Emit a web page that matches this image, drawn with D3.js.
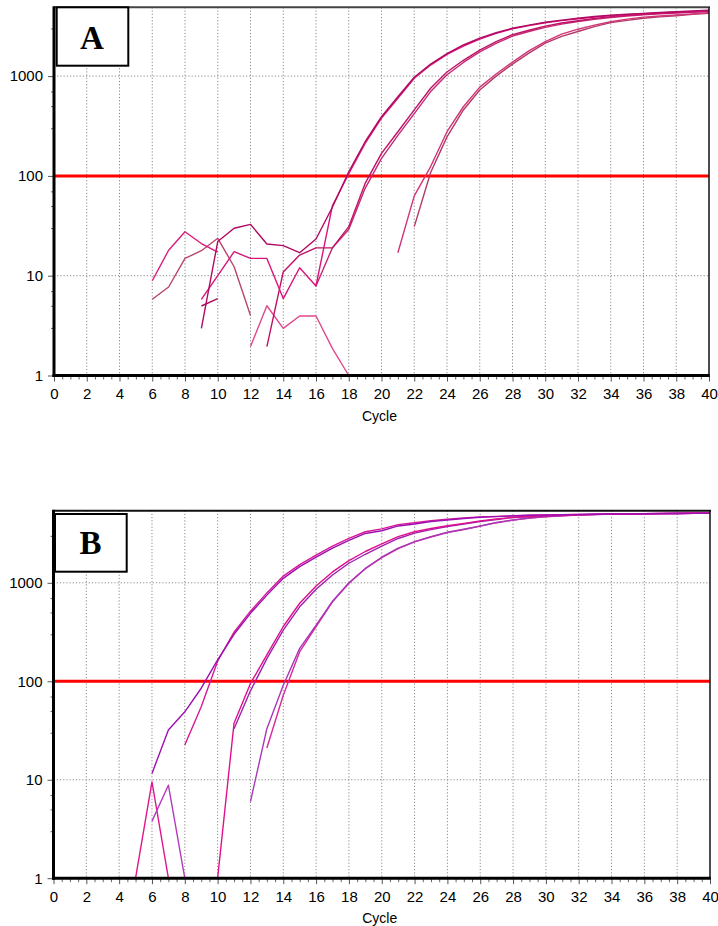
<!DOCTYPE html>
<html>
<head>
<meta charset="utf-8">
<script src="https://cdn.jsdelivr.net/npm/d3@7"></script>
<style>
  html, body { margin: 0; padding: 0; background: #fff; }
  svg { display: block; }
</style>
</head>
<body>
<svg id="chart" width="718" height="926"></svg>
<script>
// ---------------- DATA ----------------
const xTicks = d3.range(0, 41, 2);
const yTickLabels = [1, 10, 100, 1000];
const yMinorTicks = [3, 5, 7, 30, 50, 70, 300, 500, 700, 3000];
const threshold = 100;
const xLabel = "Cycle";

// Panel A series: first cycle + fluorescence values
const a1Start = 9;
const a1 = [2.97, 22, 29.9, 32.7, 20.8, 20, 17, 23.3, 48.5, 110, 220, 392, 620, 975, 1320, 1680, 2050, 2400, 2720, 3020, 3240, 3460, 3640, 3800, 3950, 4080, 4170, 4250, 4340, 4420, 4500, 4580];
const a2Start = 9;
const a2 = [5.8, 10, 17.4, 14.9, 14.9, 5.9, 12, 7.9, 50, 105, 212, 380, 600, 950, 1290, 1650, 2000, 2350, 2680, 2980, 3200, 3420, 3600, 3760, 3900, 4030, 4130, 4220, 4300, 4380, 4450, 4530];
const a3Start = 13;
const a3 = [1.95, 10.9, 16.1, 19, 19, 31, 84, 168, 277, 458, 755, 1100, 1440, 1820, 2210, 2600, 2880, 3170, 3400, 3590, 3780, 3940, 4060, 4170, 4250, 4320, 4400, 4480];
const a4Start = 16;
const a4 = [7.9, 19, 29, 75, 150, 255, 420, 700, 1030, 1370, 1750, 2130, 2520, 2800, 3080, 3320, 3520, 3700, 3870, 4000, 4110, 4200, 4280, 4360, 4440];
const a5Start = 21;
const a5 = [17, 63, 124, 277, 493, 775, 1050, 1380, 1790, 2210, 2630, 2950, 3240, 3500, 3720, 3900, 4000, 4100, 4200, 4320];
const a6Start = 22;
const a6 = [31, 108, 246, 458, 725, 1000, 1320, 1700, 2140, 2500, 2800, 3130, 3430, 3620, 3800, 3920, 4030, 4150, 4250];
const n1Start = 6;
const n1 = [8.9, 18, 27.6, 21, 17.2];
const n2Start = 6;
const n2 = [5.8, 7.7, 14.9, 17.8, 23.7, 12.3, 4.0];
const n3Start = 9;
const n3 = [4.97, 5.9];
const n4Start = 12;
const n4 = [1.95, 5.0, 2.97, 3.95, 3.95, 1.87, 1.0];

// Panel B series
const b1Start = 6;
const b1 = [11.6, 32, 49, 85, 165, 300, 490, 750, 1110, 1460, 1820, 2250, 2700, 3170, 3380, 3780, 3960, 4190, 4350, 4500, 4630, 4700, 4780, 4850, 4890, 4920, 4950, 4970, 5000, 5000, 5020, 5040, 5060, 5070, 5080];
const b2Start = 8;
const b2 = [22.5, 55, 160, 315, 515, 790, 1170, 1530, 1910, 2360, 2830, 3300, 3530, 3900, 4080, 4280, 4420, 4560, 4670, 4730, 4800, 4860, 4900, 4930, 4960, 4980, 5000, 5010, 5030, 5050, 5060, 5080, 5090];
const b3Start = 10;
const b3 = [1, 37.5, 95, 185, 360, 620, 930, 1290, 1680, 2080, 2480, 2950, 3300, 3560, 3800, 4020, 4260, 4450, 4630, 4710, 4790, 4860, 4910, 4950, 4980, 5000, 5020, 5040, 5060, 5080, 5100];
const b4Start = 11;
const b4 = [33, 80, 170, 330, 570, 860, 1200, 1580, 1950, 2360, 2820, 3200, 3470, 3730, 3960, 4200, 4400, 4600, 4690, 4770, 4850, 4900, 4940, 4980, 5000, 5020, 5040, 5060, 5080, 5090];
const b5Start = 12;
const b5 = [6, 33, 91, 216, 372, 650, 1000, 1400, 1820, 2250, 2620, 2940, 3260, 3500, 3780, 4100, 4350, 4550, 4700, 4800, 4900, 4950, 5000, 5020, 5040, 5060, 5080, 5090, 5100];
const b6Start = 13;
const b6 = [21, 72, 200, 360, 640, 990, 1390, 1800, 2220, 2600, 2920, 3230, 3480, 3760, 4080, 4330, 4540, 4690, 4790, 4890, 4940, 4990, 5010, 5030, 5050, 5070, 5080, 5090];
const n5Start = 5;
const n5 = [1, 9.5, 1];
const n6Start = 6;
const n6 = [3.8, 8.8, 1];

// ---------------- DRAWING ----------------
const svg = d3.select("#chart");

function toPoints(start, vals) {
  return vals.map((v, i) => ({ c: start + i, v: v }));
}

const panels = [
  {
    id: "A", label: "A",
    x0: 54, x1: 709, yBottom: 375.5, yTop: 7.3, yMax: 4890,
    box: [56.7, 7.3, 71.6, 58.4], labelX: 92, labelY: 48.5,
    topColor: "#444",
    series: [
      { s: n2Start, v: n2, color: "#b8446e" },
      { s: n1Start, v: n1, color: "#dc1a7c" },
      { s: n3Start, v: n3, color: "#a8105c" },
      { s: n4Start, v: n4, color: "#e0488c" },
      { s: a6Start, v: a6, color: "#b33a66" },
      { s: a5Start, v: a5, color: "#d23478" },
      { s: a4Start, v: a4, color: "#c42a72" },
      { s: a3Start, v: a3, color: "#c01068" },
      { s: a2Start, v: a2, color: "#d8147c" },
      { s: a1Start, v: a1, color: "#b00a62" }
    ]
  },
  {
    id: "B", label: "B",
    x0: 53.5, x1: 710, yBottom: 878.2, yTop: 510.7, yMax: 5400,
    box: [55, 514, 71.7, 57.7], labelX: 90.5, labelY: 554,
    topColor: "#111",
    series: [
      { s: n5Start, v: n5, color: "#e0168e" },
      { s: n6Start, v: n6, color: "#b23cbc" },
      { s: b6Start, v: b6, color: "#d8289c" },
      { s: b5Start, v: b5, color: "#a838b8" },
      { s: b4Start, v: b4, color: "#a020b0" },
      { s: b3Start, v: b3, color: "#e0108c" },
      { s: b2Start, v: b2, color: "#d81896" },
      { s: b1Start, v: b1, color: "#9c10b0" }
    ]
  }
];

panels.forEach(p => {
  const g = svg.append("g");
  const x = d3.scaleLinear().domain([0, 40]).range([p.x0, p.x1]);
  const y = d3.scaleLog().domain([1, p.yMax]).range([p.yBottom, p.yTop]);

  // clip
  const clipId = "clip" + p.id;
  svg.append("clipPath").attr("id", clipId)
    .append("rect")
    .attr("x", p.x0).attr("y", p.yTop)
    .attr("width", p.x1 - p.x0).attr("height", p.yBottom - p.yTop);

  // vertical grid
  g.append("g").selectAll("line")
    .data(xTicks.filter(t => t > 0 && t < 40))
    .join("line")
    .attr("x1", d => x(d)).attr("x2", d => x(d))
    .attr("y1", p.yTop).attr("y2", p.yBottom)
    .attr("stroke", "#8a8a8a").attr("stroke-width", 1)
    .attr("stroke-dasharray", "1.2,2");

  // horizontal grid
  g.append("g").selectAll("line")
    .data(yTickLabels.filter(t => t > 1))
    .join("line")
    .attr("x1", p.x0).attr("x2", p.x1)
    .attr("y1", d => y(d)).attr("y2", d => y(d))
    .attr("stroke", "#8a8a8a").attr("stroke-width", 1)
    .attr("stroke-dasharray", "1.2,2");

  // threshold
  g.append("line")
    .attr("x1", p.x0).attr("x2", p.x1)
    .attr("y1", y(threshold)).attr("y2", y(threshold))
    .attr("stroke", "#ff0000").attr("stroke-width", 3);

  // curves
  const line = d3.line().x(d => x(d.c)).y(d => y(Math.max(d.v, 1)));
  const lg = g.append("g").attr("clip-path", `url(#${clipId})`);
  p.series.forEach(s => {
    lg.append("path")
      .datum(toPoints(s.s, s.v))
      .attr("d", line)
      .attr("fill", "none")
      .attr("stroke", s.color)
      .attr("stroke-width", 1.4)
      .attr("stroke-linejoin", "round");
  });

  // top & right frame
  g.append("line").attr("x1", p.x0).attr("x2", p.x1 + 1)
    .attr("y1", p.yTop).attr("y2", p.yTop)
    .attr("stroke", p.topColor).attr("stroke-width", 2);
  g.append("line").attr("x1", p.x1).attr("x2", p.x1)
    .attr("y1", p.yTop).attr("y2", p.yBottom)
    .attr("stroke", "#111").attr("stroke-width", 1.5);

  // x axis
  const xAxis = d3.axisBottom(x).tickValues(xTicks).tickSize(6).tickPadding(7)
    .tickFormat(d3.format("d"));
  const xa = g.append("g").attr("transform", `translate(0,${p.yBottom})`).call(xAxis);
  xa.select(".domain").remove();
  xa.selectAll(".tick line").attr("stroke", "#555");
  xa.selectAll(".tick text")
    .attr("font-family", "'Liberation Sans', Arial, sans-serif")
    .attr("font-size", 15).attr("fill", "#000");
  // minor x ticks
  const xMinor = d3.axisBottom(x).tickValues(d3.range(0.5, 40, 1).concat(d3.range(1, 40, 2)))
    .tickSize(4).tickFormat("");
  const xm = g.append("g").attr("transform", `translate(0,${p.yBottom})`).call(xMinor);
  xm.select(".domain").remove();
  xm.selectAll(".tick line").attr("stroke", "#666");

  // y axis
  const yAxis = d3.axisLeft(y).tickValues(yTickLabels).tickSize(6).tickPadding(5)
    .tickFormat(d3.format("d"));
  const ya = g.append("g").attr("transform", `translate(${p.x0},0)`).call(yAxis);
  ya.select(".domain").remove();
  ya.selectAll(".tick line").attr("stroke", "#555");
  ya.selectAll(".tick text")
    .attr("font-family", "'Liberation Sans', Arial, sans-serif")
    .attr("font-size", 15).attr("fill", "#000");
  const yMinor = d3.axisLeft(y).tickValues(yMinorTicks.filter(v => v < p.yMax)).tickSize(3).tickFormat("");
  const ym = g.append("g").attr("transform", `translate(${p.x0},0)`).call(yMinor);
  ym.select(".domain").remove();
  ym.selectAll(".tick line").attr("stroke", "#666");

  // thick left & bottom axis lines
  g.append("line").attr("x1", p.x0).attr("x2", p.x0)
    .attr("y1", p.yTop - 1).attr("y2", p.yBottom + 1.5)
    .attr("stroke", "#000").attr("stroke-width", 3);
  g.append("line").attr("x1", p.x0 - 1.5).attr("x2", p.x1 + 0.75)
    .attr("y1", p.yBottom).attr("y2", p.yBottom)
    .attr("stroke", "#000").attr("stroke-width", 3);

  // axis title
  g.append("text")
    .attr("x", (p.x0 + p.x1) / 2 - 2).attr("y", p.yBottom + 45)
    .attr("text-anchor", "middle")
    .attr("font-family", "'Liberation Sans', Arial, sans-serif")
    .attr("font-size", 14).attr("fill", "#000")
    .text(xLabel);

  // panel label box
  g.append("rect")
    .attr("x", p.box[0]).attr("y", p.box[1])
    .attr("width", p.box[2]).attr("height", p.box[3])
    .attr("fill", "#fff").attr("stroke", "#000").attr("stroke-width", 2);
  g.append("text")
    .attr("x", p.labelX).attr("y", p.labelY)
    .attr("text-anchor", "middle")
    .attr("font-family", "'Liberation Serif', 'Times New Roman', serif")
    .attr("font-weight", "bold")
    .attr("font-size", 33).attr("fill", "#000")
    .text(p.label);
});
</script>
</body>
</html>
